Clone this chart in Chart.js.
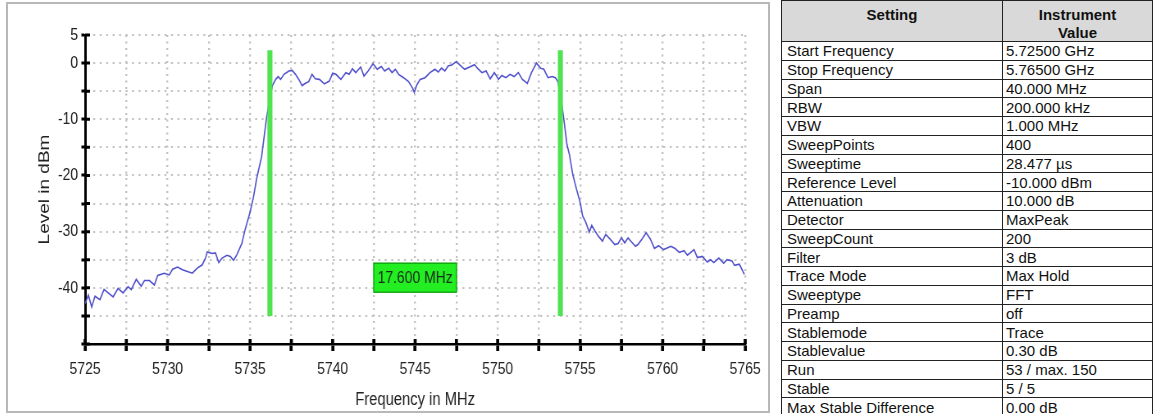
<!DOCTYPE html>
<html>
<head>
<meta charset="utf-8">
<script src="https://cdn.jsdelivr.net/npm/chart.js@4.4.1/dist/chart.umd.min.js"></script>
<style>
  body { margin: 0; background: #fff; width: 1154px; height: 414px; overflow: hidden; position: relative;
         font-family: 'Liberation Sans', Arial, sans-serif; }
  #frame { position: absolute; left: 6px; top: 2px; width: 760px; height: 407px; border: 2px solid #b8b8b8; overflow: hidden; }
  /* the plot is laid out wider and squeezed horizontally, giving condensed lettering */
  #plot { position: absolute; left: 0; top: 0; width: 927px; height: 407px; transform: scaleX(0.82); transform-origin: 0 0; }
  #settings { position: absolute; left: 781px; top: 0; width: 371px; border-collapse: collapse; table-layout: fixed;
              font-size: 15px; color: #111; }
  #settings th { background: #d9d9d9; font-size: 15px; font-weight: bold; line-height: 17.5px; height: 35px;
                 vertical-align: top; padding: 5px 2px 0; border: 1px solid #222; }
  #settings td { border: 1px solid #222; height: 17.75px; line-height: 15px; padding: 0 3px 0 5px;
                 vertical-align: middle; white-space: nowrap; }
  #settings td + td { padding-left: 3px; }
</style>
</head>
<body>
<div id="frame"><div id="plot"><canvas id="spectrum"></canvas></div></div>
<table id="settings">
  <colgroup><col style="width:221px"><col style="width:150px"></colgroup>
  <thead><tr><th>Setting</th><th>Instrument<br>Value</th></tr></thead>
  <tbody></tbody>
</table>
<script>
// measured trace (Max Hold)
const freqMHz = [
  5725.0, 5725.2, 5725.4, 5725.6, 5725.9, 5726.15, 5726.4, 5726.7, 5727.0, 5727.3,
  5727.6, 5727.8, 5728.1, 5728.4, 5728.6, 5728.9, 5729.2, 5729.4, 5729.8, 5730.1,
  5730.3, 5730.6, 5730.9, 5731.2, 5731.5, 5731.8, 5732.1, 5732.3, 5732.4, 5732.7,
  5732.9, 5733.1, 5733.3, 5733.6, 5733.8, 5734.0, 5734.2, 5734.5, 5734.7, 5735.0,
  5735.2, 5735.4, 5735.7, 5735.85, 5736.0, 5736.2, 5736.35, 5736.55, 5736.7, 5736.85,
  5737.05, 5737.35, 5737.55, 5737.75, 5737.95, 5738.15, 5738.35, 5738.55, 5738.75, 5738.95,
  5739.2, 5739.5, 5739.8, 5740.0, 5740.2, 5740.5, 5740.8, 5741.0, 5741.2, 5741.4,
  5741.7, 5741.9, 5742.15, 5742.45, 5742.7, 5742.95, 5743.15, 5743.4, 5743.6, 5743.8,
  5744.0, 5744.3, 5744.6, 5744.85, 5744.95, 5745.1, 5745.3, 5745.6, 5745.9, 5746.2,
  5746.4, 5746.6, 5746.8, 5747.0, 5747.25, 5747.5, 5747.7, 5748.0, 5748.3, 5748.6,
  5748.8, 5749.05, 5749.3, 5749.55, 5749.8, 5750.05, 5750.25, 5750.5, 5750.75, 5751.0,
  5751.25, 5751.5, 5751.8, 5752.05, 5752.35, 5752.6, 5752.8, 5753.05, 5753.3, 5753.5,
  5753.65, 5753.9, 5754.05, 5754.2, 5754.35, 5754.55, 5754.8, 5755.0, 5755.15, 5755.35,
  5755.55, 5755.7, 5755.9, 5756.1, 5756.35, 5756.55, 5756.8, 5757.1, 5757.3, 5757.5,
  5757.7, 5757.9, 5758.1, 5758.35, 5758.5, 5758.75, 5759.0, 5759.25, 5759.5, 5759.75,
  5760.05, 5760.2, 5760.5, 5760.75, 5761.0, 5761.3, 5761.5, 5761.9, 5762.1, 5762.4,
  5762.7, 5762.9, 5763.1, 5763.4, 5763.7, 5763.9, 5764.2, 5764.35, 5764.65, 5764.95
];
const levelDbm = [
  -42.8, -41.3, -43.4, -41.5, -42.1, -40.3, -40.9, -41.6, -40.1, -40.9,
  -39.8, -40.3, -38.5, -39.7, -38.7, -38.7, -39.5, -37.8, -37.4, -37.7,
  -36.7, -36.3, -36.8, -37.1, -37.4, -36.5, -35.9, -34.7, -33.6, -33.9,
  -33.8, -35.5, -34.7, -34.2, -34.4, -35.1, -34.1, -32.1, -29.6, -26.5,
  -23.9, -20.5, -16.6, -13.1, -9.6, -6.2, -4.0, -2.9, -2.4, -2.9,
  -2.0, -1.4, -1.3, -2.0, -2.9, -4.0, -3.6, -3.3, -2.0, -2.8,
  -2.9, -3.7, -3.2, -1.8, -2.0, -2.9, -1.7, -2.0, -1.0, -1.7,
  -0.7, -2.3, -1.4, -0.1, -1.1, -0.6, -1.4, -0.9, -1.7, -1.1,
  -2.0, -2.6, -3.3, -4.5, -5.2, -3.9, -2.9, -2.6, -1.7, -1.1,
  -1.6, -0.9, -1.4, -0.5, -0.3, 0.3, -0.3, -1.1, -0.7, -0.3,
  -1.0, -1.7, -1.4, -2.8, -1.7, -2.9, -2.2, -2.6, -2.0, -2.4,
  -1.7, -2.9, -3.6, -1.7, 0.0, -0.9, -1.1, -2.6, -2.4, -2.6,
  -3.3, -7.6, -10.9, -14.5, -16.3, -19.8, -22.7, -24.8, -27.2, -28.4,
  -30.1, -28.9, -29.9, -30.8, -31.7, -30.5, -31.3, -32.3, -32.1, -31.1,
  -32.0, -31.1, -31.8, -32.6, -32.3, -31.3, -30.2, -31.3, -33.0, -32.5,
  -33.2, -33.0, -32.6, -33.0, -33.7, -33.4, -34.2, -33.2, -34.6, -34.4,
  -35.4, -35.0, -35.5, -34.7, -35.6, -35.0, -35.2, -36.0, -35.8, -37.6
];

// occupied bandwidth markers
const markerLeft = 5736.2;
const markerWidth = 17.6;
const markerRight = markerLeft + markerWidth;
const markerTop = 2.3;
const markerBottom = -45;
const labelLevel = -38.2;

const xLabelValues = [5725, 5730, 5735, 5740, 5745, 5750, 5755, 5760, 5765];
const yLabelValues = [5, 0, -10, -20, -30, -40];

const settingNames = [
  'Start Frequency', 'Stop Frequency', 'Span', 'RBW', 'VBW', 'SweepPoints', 'Sweeptime',
  'Reference Level', 'Attenuation', 'Detector', 'SweepCount', 'Filter', 'Trace Mode',
  'Sweeptype', 'Preamp', 'Stablemode', 'Stablevalue', 'Run', 'Stable', 'Max Stable Difference'
];
const settingValues = [
  '5.72500 GHz', '5.76500 GHz', '40.000 MHz', '200.000 kHz', '1.000 MHz', '400', '28.477 µs',
  '-10.000 dBm', '10.000 dB', 'MaxPeak', '200', '3 dB', 'Max Hold',
  'FFT', 'off', 'Trace', '0.30 dB', '53 / max. 150', '5 / 5', '0.00 dB'
];

const tbody = document.querySelector('#settings tbody');
settingNames.forEach((name, i) => {
  const tr = document.createElement('tr');
  const a = document.createElement('td');
  const b = document.createElement('td');
  a.textContent = name;
  b.textContent = settingValues[i];
  tr.appendChild(a);
  tr.appendChild(b);
  tbody.appendChild(tr);
});

const sans = "'Liberation Sans', Arial, sans-serif";
const green = '#4fe34f';

// tick marks crossing into the plot + bandwidth label box
const overlay = {
  id: 'overlay',
  afterDraw(chart) {
    const { ctx, chartArea, scales: { x, y } } = chart;
    ctx.save();
    ctx.strokeStyle = '#000';
    ctx.lineWidth = 3.7;
    ctx.beginPath();
    x.ticks.forEach(t => {
      const px = x.getPixelForValue(t.value);
      ctx.moveTo(px, chartArea.bottom);
      ctx.lineTo(px, chartArea.bottom - 5);
    });
    ctx.stroke();
    ctx.lineWidth = 3;
    ctx.beginPath();
    y.ticks.forEach(t => {
      const py = y.getPixelForValue(t.value);
      ctx.moveTo(chartArea.left, py);
      ctx.lineTo(chartArea.left + 6, py);
    });
    ctx.stroke();

    const cx = x.getPixelForValue((markerLeft + markerRight) / 2);
    const cy = y.getPixelForValue(labelLevel);
    const w = 102, h = 30;
    ctx.fillStyle = '#22ee22';
    ctx.fillRect(cx - w / 2, cy - h / 2, w, h);
    ctx.strokeStyle = '#119911';
    ctx.lineWidth = 1.2;
    ctx.strokeRect(cx - w / 2 + 0.6, cy - h / 2 + 0.5, w - 1.2, h - 1);
    ctx.fillStyle = '#1c2a1c';
    ctx.font = '17px ' + sans;
    ctx.textAlign = 'center';
    ctx.textBaseline = 'middle';
    ctx.fillText(markerWidth.toFixed(3) + ' MHz', cx, cy + 1);
    ctx.restore();
  }
};

const markerLine = f => ({
  data: [{ x: f, y: markerTop }, { x: f, y: markerBottom }],
  borderColor: green,
  borderWidth: 6.1,
  borderCapStyle: 'butt',
  pointRadius: 0,
  showLine: true,
  order: 0
});

new Chart(document.getElementById('spectrum'), {
  type: 'scatter',
  data: {
    datasets: [
      markerLine(markerLeft),
      markerLine(markerRight),
      {
        data: freqMHz.map((f, i) => ({ x: f, y: levelDbm[i] })),
        borderColor: '#5252cc',
        borderWidth: 1.6,
        pointRadius: 0,
        showLine: true,
        tension: 0,
        order: 1
      }
    ]
  },
  options: {
    responsive: true,
    maintainAspectRatio: false,
    animation: false,
    devicePixelRatio: 1,
    layout: { padding: { top: 31, right: 28, left: 0, bottom: 0 } },
    plugins: { legend: { display: false }, tooltip: { enabled: false } },
    scales: {
      x: {
        type: 'linear',
        min: 5725,
        max: 5765,
        afterFit: s => { s.height = 67; },
        ticks: {
          stepSize: 2.5,
          autoSkip: false,
          maxRotation: 0,
          padding: 8,
          color: '#222',
          font: { family: sans, size: 17 },
          callback: v => xLabelValues.includes(v) ? String(v) : ''
        },
        grid: {
          color: '#c2c2c2',
          lineWidth: 2.4,
          tickLength: 7,
          tickWidth: 3.7,
          tickColor: '#000',
          tickBorderDash: []
        },
        border: { color: '#000', width: 2.5, dash: [2, 4.5] },
        title: {
          display: true,
          text: 'Frequency in MHz',
          color: '#222',
          font: { family: sans, size: 18 },
          padding: { top: 0, bottom: 0 }
        }
      },
      y: {
        min: -50,
        max: 5,
        afterFit: s => { s.width = 94; },
        ticks: {
          stepSize: 5,
          autoSkip: false,
          padding: 4,
          color: '#222',
          font: { family: sans, size: 17 },
          callback: v => yLabelValues.includes(v) ? String(v) : ''
        },
        grid: {
          color: '#c2c2c2',
          lineWidth: 2,
          tickLength: 4.5,
          tickWidth: 3,
          tickColor: '#000',
          tickBorderDash: []
        },
        border: { color: '#000', width: 3, dash: [2.4, 5.5] },
        title: {
          display: true,
          text: 'Level in dBm',
          color: '#222',
          font: { family: sans, size: 19 },
          padding: { top: 33, bottom: 0 }
        }
      }
    }
  },
  plugins: [overlay]
});
</script>
</body>
</html>
